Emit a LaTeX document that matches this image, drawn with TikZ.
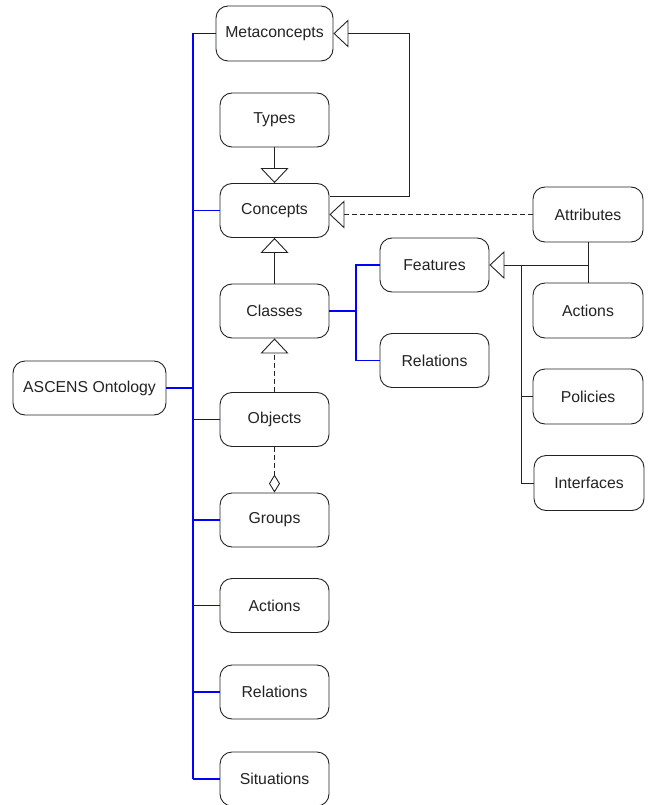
\documentclass[tikz,border=0pt]{standalone}
\usepackage{fontspec}
\setmainfont{Liberation Sans}
\usetikzlibrary{arrows.meta}
\definecolor{ink}{RGB}{35,35,35}
\definecolor{busblue}{RGB}{0,0,255}
\tikzset{
  box/.style={draw=ink, text=ink, line width=0.9pt, rounded corners=12pt, minimum width=109pt, minimum height=54pt, inner sep=0pt, font=\fontsize{15.8}{18}\selectfont},
  bus/.style={draw=busblue, line width=1.5pt},
  branch/.style={draw=busblue, line width=1.1pt},
  conn/.style={draw=ink, line width=0.9pt},
  gen/.style={conn, -{Triangle[open, length=15pt, width=28pt, line width=0.9pt]}},
  agg/.style={conn, dashed, dash pattern=on 5pt off 3pt, -{Diamond[open, length=18pt, width=11pt, line width=0.9pt]}}
}
\begin{document}
\begin{tikzpicture}[x=1pt,y=-1pt]
\useasboundingbox (0,0) rectangle (654,805);
\fill[white] (0,0) rectangle (654,805);
% nodes
\node[box, minimum width=117pt, minimum height=55pt] (meta) at (274.5,33.5) {Metaconcepts};
\node[box] (types) at (274.5,120) {Types};
\node[box] (conc) at (274.5,210.5) {Concepts};
\node[box] (cls) at (274.5,311) {Classes};
\node[box] (obj) at (274.5,419.5) {Objects};
\node[box] (grp) at (274.5,520) {Groups};
\node[box] (act) at (274.5,605.5) {Actions};
\node[box] (rel) at (274.5,692) {Relations};
\node[box] (sit) at (274.5,779) {Situations};
\node[box, minimum width=153pt] (asc) at (89.5,388) {ASCENS Ontology};
\node[box, minimum width=110pt, minimum height=55pt] (attr) at (588,214.5) {Attributes};
\node[box] (feat) at (434.5,265) {Features};
\node[box, minimum width=110pt, minimum height=55pt] (ract) at (588,310.5) {Actions};
\node[box] (rrel) at (434.5,360.5) {Relations};
\node[box, minimum width=110pt, minimum height=55pt] (pol) at (588,396.5) {Policies};
\node[box, minimum width=110pt, minimum height=55pt] (intf) at (589,483) {Interfaces};
% blue tree
\coordinate (bx) at (193,0);
\draw[bus] (meta.west -| bx) -- (sit.west -| bx);
\foreach \n in {meta,conc,obj,grp,act,rel,sit}{
  \draw[branch] (\n.west) -- (\n.west -| bx);
}
\draw[draw=busblue, line width=2pt] (asc.east) -- (asc.east -| bx);
\coordinate (fx) at (356,0);
\draw[branch] (cls.east) -- (cls.east -| fx);
\draw[branch] (feat.west) -| (fx |- rrel.west) -- (rrel.west);
% generalisations
\draw[gen] (types.south) -- (conc.north);
\draw[gen] (cls.north) -- (conc.south);
\draw[gen, dashed, dash pattern=on 5pt off 3pt] (obj.north) -- (cls.south);
\draw[agg] (obj.south) -- (grp.north);
\coordinate (cm) at (330,196);
\coordinate (mx) at (409,0);
\draw[gen] (cm) -- (cm -| mx) -- (meta.east -| mx) -- (meta.east);
\draw[gen, dashed, dash pattern=on 5pt off 3pt] (attr.west) -- (attr.west -| conc.east);
\coordinate (jx) at (521,0);
\draw[gen] (attr.south) -- (attr.south |- feat.east) -- (feat.east);
\draw[conn] (attr.south) -- (ract.north);
\draw[conn] (jx |- feat.east) |- (pol.west);
\draw[conn] (jx |- feat.east) |- (intf.west);
\end{tikzpicture}
\end{document}
